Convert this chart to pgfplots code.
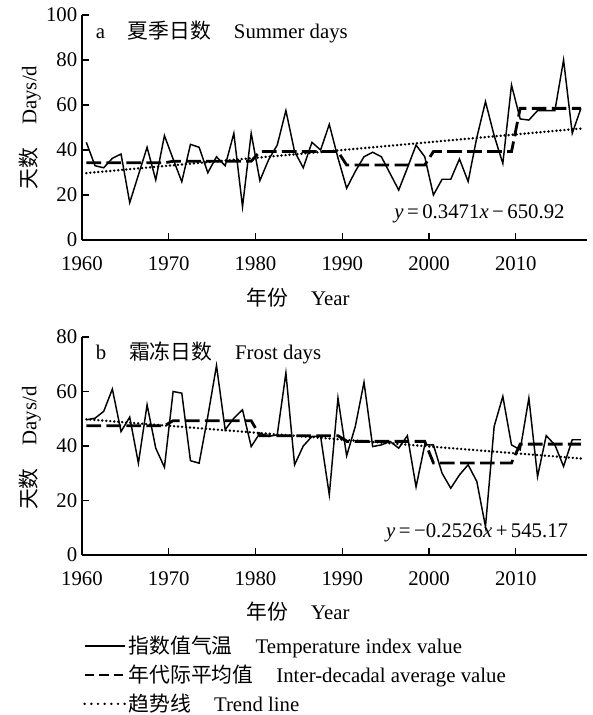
\documentclass[border=0pt]{standalone}
\usepackage{fontspec}
\setmainfont{Liberation Serif}
\newfontfamily\cjk{Noto Sans CJK SC}
\usepackage{pgfplots}
\usepackage{pgfplotstable}
\pgfplotsset{compat=1.18}

\newcommand\fs{\fontsize{15.6}{18}\selectfont}

% annual values, 1961-2018
\pgfplotstableread{
year summer frost
1961 43.4 49.6
1962 33.0 50.2
1963 32.1 52.7
1964 36.3 60.9
1965 38.2 45.3
1966 16.6 50.6
1967 28.9 33.7
1968 41.2 55.1
1969 26.7 39.2
1970 46.4 32.2
1971 36.0 60.0
1972 25.9 59.4
1973 42.5 34.6
1974 41.2 33.7
1975 29.9 50.9
1976 37.0 69.5
1977 33.0 46.0
1978 47.4 50.2
1979 14.8 53.3
1980 47.4 39.8
1981 26.4 44.7
1982 35.6 43.5
1983 42.2 44.1
1984 57.5 66.8
1985 39.3 33.1
1986 32.1 40.0
1987 43.4 43.5
1988 40.0 43.5
1989 51.4 22.1
1990 36.5 57.6
1991 23.0 36.4
1992 30.5 47.2
1993 37.0 63.4
1994 39.0 39.8
1995 37.0 40.4
1996 29.6 41.7
1997 22.2 39.2
1998 32.0 43.8
1999 42.2 25.0
2000 37.0 40.4
2001 20.0 40.4
2002 27.0 30.0
2003 27.0 24.5
2004 36.0 29.4
2005 26.0 33.1
2006 45.5 27.0
2007 61.5 10.4
2008 46.4 47.2
2009 34.0 58.2
2010 68.9 40.4
2011 53.8 38.6
2012 53.3 57.6
2013 57.5 28.8
2014 57.5 43.8
2015 57.5 40.4
2016 80.0 32.5
2017 47.4 42.3
2018 58.5 42.3
}\annual

% inter-decadal averages as steps
\pgfplotstableread{
year summer frost
1961 34.3 47.4
1970 34.3 47.4
1971 35.0 49.3
1980 35.0 49.3
1981 39.3 43.8
1990 39.3 43.8
1991 33.3 41.7
2000 33.3 41.7
2001 39.3 33.8
2010 39.3 33.8
2011 58.5 40.7
2018 58.5 40.7
}\decadal

\pgfplotsset{
  panel/.style={
    scale only axis,
    width=378.75pt,
    axis x line*=bottom,
    axis y line*=left,
    axis line style={line width=0.9pt},
    tick align=inside,
    major tick length=5pt,
    every tick/.style={black,line width=0.9pt},
    xmin=1960, xmax=2018.2,
    xtick={1960,1970,...,2010},
    x filter/.expression={x-0.5},
    /pgf/number format/assume math mode=true,
    /pgf/number format/1000 sep={},
    tick label style={font=\fs},
    xticklabel style={yshift=-9pt},
    label style={font=\fs},
    clip=false,
  },
  obs/.style={black,line width=1.1pt,line join=miter},
  dec/.style={black,line width=2.1pt,dash pattern=on 11pt off 4pt,
    legend image post style={dash pattern=on 7pt off 4pt}},
  trend/.style={black,line width=2pt,line cap=round,dash pattern=on 0pt off 3pt,
    legend image post style={dash pattern=on 0pt off 5pt}},
}

\begin{document}
\begin{tikzpicture}
\useasboundingbox (0pt,0pt) rectangle (444.75pt,536.25pt);

\begin{axis}[panel,
  at={(61.5pt,356.25pt)}, anchor=south west,
  height=168.75pt,
  ymin=0, ymax=100, ytick={0,20,...,100},
  xlabel={{\cjk 年份}\hspace{1.1em}Year},
  xlabel style={at={(axis description cs:0.428,-0.258)},anchor=center},
  ylabel={{\cjk 天数}\hspace{1.1em}Days/d},
  ylabel style={at={(axis description cs:-0.103,0.5)},anchor=center},
]
\addplot[obs] table[x=year,y=summer] {\annual};
\addplot[dec] table[x=year,y=summer] {\decadal};
\addplot[trend] coordinates {(1961,29.74) (2018,49.53)};
\node[anchor=west,font=\fs] at (axis description cs:0.018,0.924)
  {a\hspace{1.1em}{\cjk 夏季日数}\hspace{1.1em}Summer days};
\node[anchor=east,font=\fs] at (axis description cs:0.965,0.116)
  {\textit{y}\,=\,0.3471\textit{x}\,−\,650.92};
\end{axis}

\begin{axis}[panel,
  at={(61.5pt,120pt)}, anchor=south west,
  height=163.5pt,
  ymin=0, ymax=80, ytick={0,20,...,80},
  xlabel={{\cjk 年份}\hspace{1.1em}Year},
  xlabel style={at={(axis description cs:0.428,-0.261)},anchor=center},
  ylabel={{\cjk 天数}\hspace{1.1em}Days/d},
  ylabel style={at={(axis description cs:-0.103,0.49)},anchor=center},
  legend style={at={(axis description cs:0.002,-0.36)},anchor=north west,
    draw=none,fill=none,font=\fs,inner sep=0pt,row sep=3pt,
    nodes={inner sep=2pt}},
  legend cell align=left,
  legend image code/.code={\draw[#1] (0pt,0pt) -- (30pt,0pt);},
]
\addplot[obs] table[x=year,y=frost] {\annual};
\addplot[dec] table[x=year,y=frost] {\decadal};
\addplot[trend] coordinates {(1961,49.82) (2018,35.42)};
\node[anchor=west,font=\fs] at (axis description cs:0.018,0.927)
  {b\hspace{1.1em}{\cjk 霜冻日数}\hspace{1.1em}Frost days};
\node[anchor=east,font=\fs] at (axis description cs:0.972,0.10)
  {\textit{y}\,=\,−0.2526\textit{x}\,+\,545.17};
\legend{{\cjk 指数值气温}\hspace{1.1em}Temperature index value,
  {\cjk 年代际平均值}\hspace{1.1em}Inter-decadal average value,
  {\cjk 趋势线}\hspace{1.1em}Trend line}
\end{axis}
\end{tikzpicture}
\end{document}
